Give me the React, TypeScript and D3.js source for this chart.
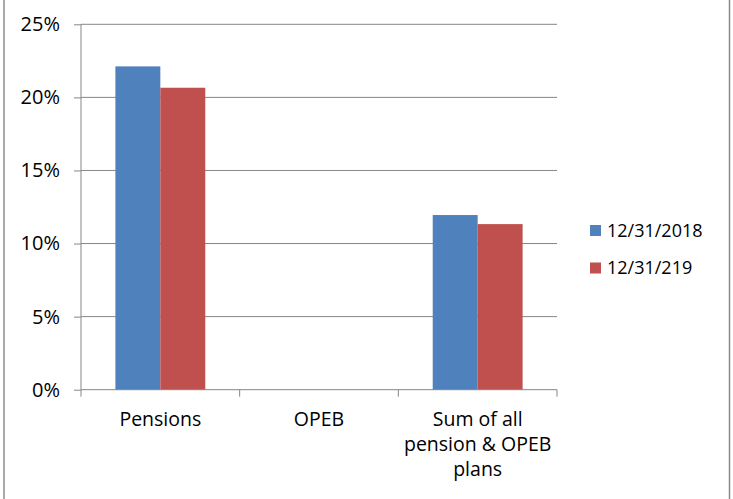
import React, { useEffect, useRef } from 'react';
import * as d3 from 'd3';

// chart data
const categories = ['Pensions', 'OPEB', 'Sum of all pension & OPEB plans'];
const categoryLines = [['Pensions'], ['OPEB'], ['Sum of all', 'pension & OPEB', 'plans']];
const seriesNames = ['12/31/2018', '12/31/219'];
const values2018 = [0.2212, 0, 0.1195];
const values2019 = [0.2066, 0, 0.1133];
const yTicks = [0, 0.05, 0.1, 0.15, 0.2, 0.25];
const colors = ['#4F81BD', '#C0504D'];

const WIDTH = 733;
const HEIGHT = 499;
const FONT = '"Open Sans", sans-serif';

const App = () => {
    const ref = useRef<SVGSVGElement>(null);

    useEffect(() => {
        const svg = d3.select(ref.current);
        svg.selectAll('*').remove();

        // outer frame (only left and right edges visible)
        svg.append('line').attr('x1', 4).attr('x2', 4).attr('y1', 0).attr('y2', HEIGHT)
            .attr('stroke', '#8c8c8c').attr('stroke-width', 1.5);
        svg.append('line').attr('x1', 729.5).attr('x2', 729.5).attr('y1', 0).attr('y2', HEIGHT)
            .attr('stroke', '#8c8c8c').attr('stroke-width', 1.5);

        const left = 81, right = 557, top = 24.3, bottom = 389.7;

        const x = d3.scaleBand().domain(categories).range([left, right]).paddingInner(0).paddingOuter(0);
        const xInner = d3.scaleBand().domain(seriesNames).range([0, x.bandwidth()]).paddingInner(0).paddingOuter(0.765);
        const y = d3.scaleLinear().domain([0, 0.25]).range([bottom, top]);

        // gridlines
        svg.append('g').selectAll('line').data(yTicks.filter(d => d > 0)).join('line')
            .attr('x1', left).attr('x2', right)
            .attr('y1', d => y(d)).attr('y2', d => y(d))
            .attr('stroke', '#868686').attr('stroke-width', 1);

        // y axis
        const yAxis = svg.append('g').attr('transform', `translate(${left},0)`)
            .call(d3.axisLeft(y).tickValues(yTicks).tickSize(7).tickPadding(14).tickFormat(d3.format('.0%')));
        yAxis.select('.domain').attr('stroke', '#868686').attr('d', `M0,${top}V${bottom}`);
        yAxis.selectAll('.tick line').attr('stroke', '#868686');
        yAxis.selectAll('.tick text').attr('font-family', FONT).attr('font-size', 20).attr('fill', '#000');

        // bars
        const series = [values2018, values2019];
        series.forEach((vals, si) => {
            svg.append('g').selectAll('rect').data(vals).join('rect')
                .attr('x', (_, i) => (x(categories[i]) as number) + (xInner(seriesNames[si]) as number))
                .attr('width', xInner.bandwidth())
                .attr('y', d => y(d))
                .attr('height', d => bottom - y(d))
                .attr('fill', colors[si]);
        });

        // x axis
        const xAxisG = svg.append('g');
        xAxisG.append('line').attr('x1', left).attr('x2', right).attr('y1', bottom).attr('y2', bottom)
            .attr('stroke', '#868686');
        const boundaries = [...categories.map(c => x(c) as number), right];
        xAxisG.selectAll('.xt').data(boundaries).join('line')
            .attr('x1', d => d).attr('x2', d => d).attr('y1', bottom).attr('y2', bottom + 7)
            .attr('stroke', '#868686');
        categories.forEach((c, i) => {
            const cx = (x(c) as number) + x.bandwidth() / 2;
            const t = xAxisG.append('text').attr('text-anchor', 'middle')
                .attr('font-family', FONT).attr('font-size', 19.5).attr('fill', '#000');
            categoryLines[i].forEach((line, li) => {
                t.append('tspan').attr('x', cx).attr('y', 426 + li * 25).text(line);
            });
        });

        // legend
        const legend = svg.append('g').attr('transform', 'translate(590,225)');
        seriesNames.forEach((name, i) => {
            const g = legend.append('g').attr('transform', `translate(0,${i * 37.5})`);
            g.append('rect').attr('width', 11).attr('height', 11).attr('fill', colors[i]);
            g.append('text').attr('x', 17).attr('y', 11.5)
                .attr('font-family', FONT).attr('font-size', 18).attr('fill', '#000').text(name);
        });
    }, []);

    return (
        <svg ref={ref} width={WIDTH} height={HEIGHT}
            style={{ position: 'absolute', left: 0, top: 0, background: '#fff' }} />
    );
};

export default App;
